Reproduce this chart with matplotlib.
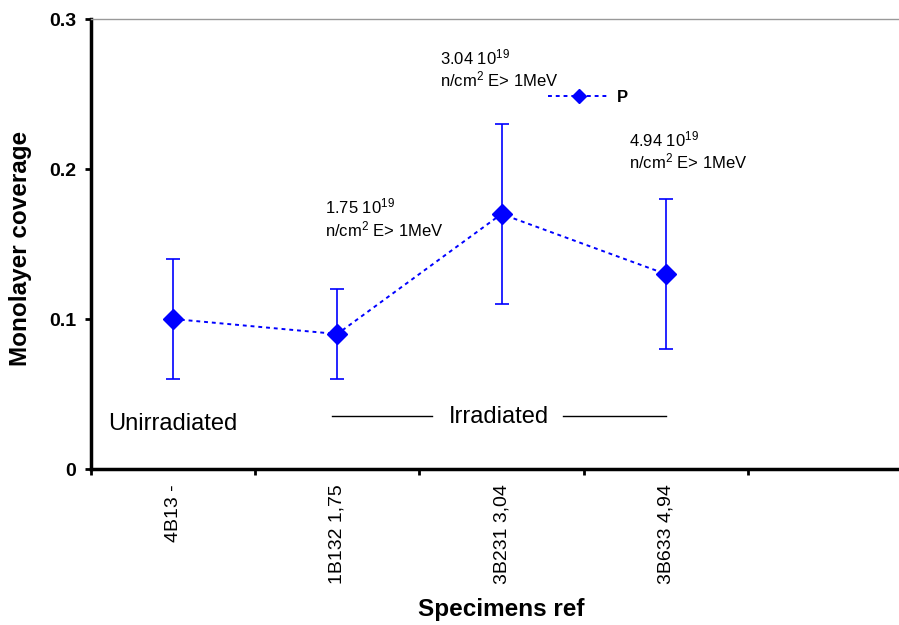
import matplotlib
matplotlib.use("Agg")
from matplotlib import pyplot as plt
from matplotlib.lines import Line2D
import numpy as np

plt.rcParams['font.family'] = ['Liberation Sans', 'DejaVu Sans']
plt.rcParams['mathtext.fontset'] = 'custom'
plt.rcParams['mathtext.rm'] = 'Liberation Sans'
plt.rcParams['mathtext.it'] = 'Liberation Sans'

# data
specimens = ['4B13 -', '1B132 1,75', '3B231 3,04', '3B633 4,94']
coverage = [0.10, 0.09, 0.17, 0.13]
err = [0.04, 0.03, 0.06, 0.05]
n_slots = 5  # one empty category slot on the right

notes = [
    (0.925, 0.1707, r'1.75 10$^{19}$'),
    (0.925, 0.1553, r'n/cm$^{2}$ E> 1MeV'),
    (1.625, 0.2700, r'3.04 10$^{19}$'),
    (1.625, 0.2553, r'n/cm$^{2}$ E> 1MeV'),
    (2.777, 0.2153, r'4.94 10$^{19}$'),
    (2.777, 0.2007, r'n/cm$^{2}$ E> 1MeV'),
]
irr_lines = [(0.968, 1.577), (2.375, 3.002)]
irr_y = 0.0353

blue = '#0000FF'
dots = (0, (2, 2))

fig = plt.figure(figsize=(8.99, 6.25), dpi=100)
ax = fig.add_axes([91 / 899, 156 / 625, 5 * 164.2 / 899, 450 / 625])

x = np.arange(len(coverage))
ax.errorbar(x, coverage, yerr=err, color=blue, ecolor=blue, elinewidth=1.2,
            capsize=5, capthick=1.2, linestyle=dots, linewidth=1.4,
            marker='D', markersize=10, zorder=3)

ax.set_xlim(-0.5, n_slots - 0.5)
ax.set_ylim(0, 0.3)
ax.set_yticks([0, 0.1, 0.2, 0.3])
ax.set_yticklabels(['0', '0.1', '0.2', '0.3'], fontweight='bold', fontsize=14)
ax.tick_params(axis='y', length=4.5, width=2, pad=6)

ax.set_xticks(np.arange(n_slots + 1) - 0.5)
ax.set_xticklabels([])
ax.tick_params(axis='x', which='major', length=4.5, width=2)
ax.set_xticks(x, minor=True)
ax.set_xticklabels(specimens, minor=True, rotation=90, fontsize=14)
ax.tick_params(axis='x', which='minor', length=0, pad=11)

for s in ['left', 'bottom']:
    ax.spines[s].set_linewidth(2.5)
ax.spines['top'].set_color('#999999')
ax.spines['top'].set_linewidth(1)
ax.spines['right'].set_visible(False)

ax.set_ylabel('Monolayer coverage', fontsize=17.5, fontweight='bold')
ax.yaxis.set_label_coords(-0.072, 0.491)
ax.set_xlabel('Specimens ref', fontsize=17.5, fontweight='bold', labelpad=10)

for tx, ty, s in notes:
    ax.text(tx, ty, s, fontsize=12, va='baseline', ha='left')

ax.text(-0.396, 0.026, 'Unirradiated', fontsize=17, va='baseline', ha='left')
ax.text(1.985, 0.0307, 'Irradiated', fontsize=17, va='baseline', ha='center')
for x0, x1 in irr_lines:
    ax.plot([x0, x1], [irr_y, irr_y], color='black', linewidth=1)

handle = Line2D([], [], color=blue, linestyle=dots, linewidth=1.4,
                marker='D', markersize=7)
ax.legend([handle], ['P'], loc='center left', bbox_to_anchor=(548 / 899, 1 - 97 / 625),
          bbox_transform=fig.transFigure, frameon=False, borderaxespad=0, borderpad=0,
          handlelength=3.66, handletextpad=0.5, prop={'weight': 'bold', 'size': 12})

fig.savefig('out.png', dpi=100)
